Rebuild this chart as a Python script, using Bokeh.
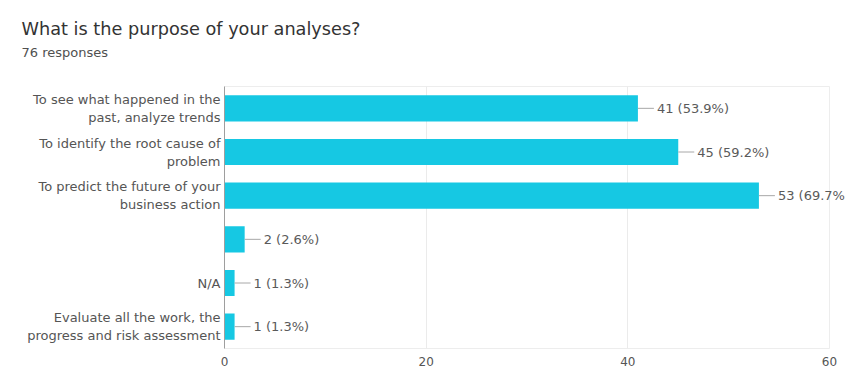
from bokeh.plotting import figure
from bokeh.models import ColumnDataSource, FactorRange, Range1d, FixedTicker
from bokeh.core.properties import value
from bokeh.embed import file_html
from bokeh.resources import INLINE

title_text = "What is the purpose of your analyses?"
subtitle_text = "76 responses"
total_responses = 76
categories = [
    "To see what happened in the\npast, analyze trends",
    "To identify the root cause of\nproblem",
    "To predict the future of your\nbusiness action",
    " ",
    "N/A",
    "Evaluate all the work, the\nprogress and risk assessment",
]
counts = [41, 45, 53, 2, 1, 1]
x_ticks = [0, 20, 40, 60]

labels = [f"{c} ({c / total_responses * 100:.1f}%)" for c in counts]
src = ColumnDataSource(dict(cat=categories, count=counts, label=labels))

FONT = "DejaVu Sans"
p = figure(
    width=845, height=372,
    y_range=FactorRange(factors=list(reversed(categories))),
    x_range=Range1d(0, 60),
    output_backend="svg", toolbar_location=None,
    min_border_left=224, min_border_right=16, min_border_top=86, min_border_bottom=24,
)

p.hbar(y="cat", right="count", left=0, height=0.6, source=src,
       fill_color="#16C8E3", line_color=None)
p.ray(x="count", y="cat", length=16, length_units="screen", angle=0,
      line_color="#a8a8a8", line_width=1, source=src)
t = p.text(x="count", y="cat", text="label", x_offset=19, source=src,
           text_baseline="middle", text_align="left",
           text_font=value(FONT), text_font_size="13px", text_color="#5a5a5a")
t.level = "overlay"

# title and subtitle, anchored to the top-left corner of the plot frame
top = len(categories)  # synthetic coordinate of the frame top
head = ColumnDataSource(dict(x=[0, 0], y=[top, top], text=[title_text, subtitle_text],
                             size=["17.7px", "13px"], color=["#333333", "#505050"],
                             yoff=[-58, -34], base=["alphabetic", "middle"]))
h = p.text(x="x", y="y", text="text", source=head,
           x_offset=-203, y_offset="yoff", text_baseline="base", text_align="left",
           text_font=value(FONT), text_font_size="size", text_color="color")
h.level = "overlay"

p.yaxis.major_tick_line_color = None
p.yaxis.minor_tick_line_color = None
p.yaxis.major_tick_out = 0
p.yaxis.axis_line_color = "#9e9e9e"
p.yaxis.major_label_text_font = FONT
p.yaxis.major_label_text_font_size = "13px"
p.yaxis.major_label_text_color = "#555555"
p.yaxis.major_label_standoff = 4

p.xaxis.ticker = FixedTicker(ticks=x_ticks)
p.xaxis.major_tick_line_color = None
p.xaxis.minor_tick_line_color = None
p.xaxis.major_tick_out = 0
p.xaxis.axis_line_color = None
p.xaxis.major_label_text_font = FONT
p.xaxis.major_label_text_font_size = "12px"
p.xaxis.major_label_text_color = "#555555"
p.xaxis.major_label_standoff = 8

p.ygrid.grid_line_color = None
p.xgrid.grid_line_color = "#ebebeb"
p.outline_line_color = "#ededed"
p.background_fill_color = "white"
p.border_fill_color = "white"

open("out.html", "w").write(file_html(p, INLINE))
